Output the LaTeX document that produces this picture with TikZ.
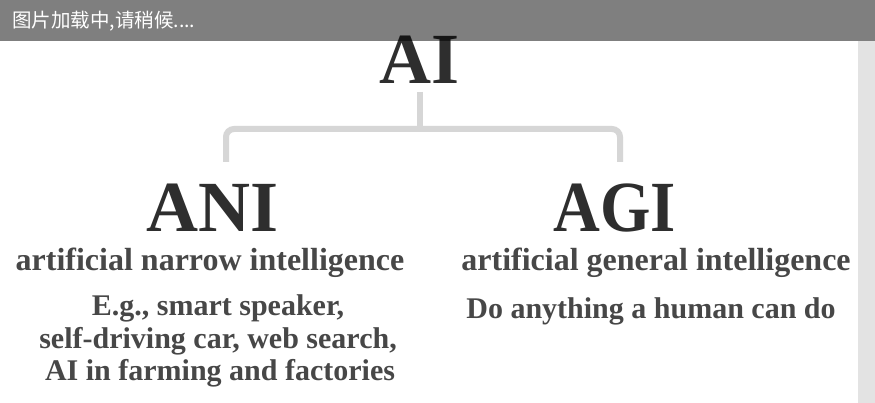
\documentclass[tikz,border=0pt]{standalone}
\usepackage{fontspec}
\setmainfont{Liberation Serif}
\newfontfamily\cjk{Noto Sans CJK SC}
\begin{document}
\begin{tikzpicture}[x=1pt,y=-1pt,
  title/.style={inner sep=0pt, anchor=base, text=black!82, font=\bfseries\fontsize{72}{72}\selectfont},
  body/.style={inner sep=0pt, anchor=base, text=black!72, font=\bfseries\fontsize{30}{33}\selectfont},
  sub/.style={body, font=\bfseries\fontsize{32}{33}\selectfont},
  conn/.style={draw=black!16, line width=6pt, rounded corners=8pt}]
\useasboundingbox (0,0) rectangle (875,403);
\fill[white] (0,0) rectangle (875,403);
% right strip
\fill[black!11] (858,41) rectangle (875,403);
% titles
\node[title] (ai) at (420,84) {AI};
\node[title] (ani) at (213,232) {ANI};
\node[title, xscale=0.9] (agi) at (615,232) {AGI};
% connector
\coordinate (top) at (420,92);
\coordinate (split) at (420,129);
\coordinate (lft) at (226,129);
\coordinate (rgt) at (620,129);
\coordinate (lend) at (226,162);
\coordinate (rend) at (620,162);
\draw[conn] (top) -- (split);
\draw[conn] (lend) -- (lft) -- (rgt) -- (rend);
% ANI texts
\node[sub] (anil) at (210,271) {artificial narrow intelligence};
\node[body] (ani1) at (218,315) {E.g., smart speaker,};
\node[body] (ani2) at (218,348) {self-driving car, web search,};
\node[body] (ani3) at (220,380) {AI in farming and factories};
% AGI texts
\node[sub] (agil) at (656,271) {artificial general intelligence};
\node[body] (agi1) at (651,318) {Do anything a human can do};
% top overlay bar
\fill[black, opacity=0.5] (0,0) rectangle (875,41);
\node[inner sep=0pt, anchor=base west, text=white, font=\cjk\fontsize{19.5}{19.5}\selectfont] (msg) at (12,28) {图片加载中,请稍候....};
\end{tikzpicture}
\end{document}
